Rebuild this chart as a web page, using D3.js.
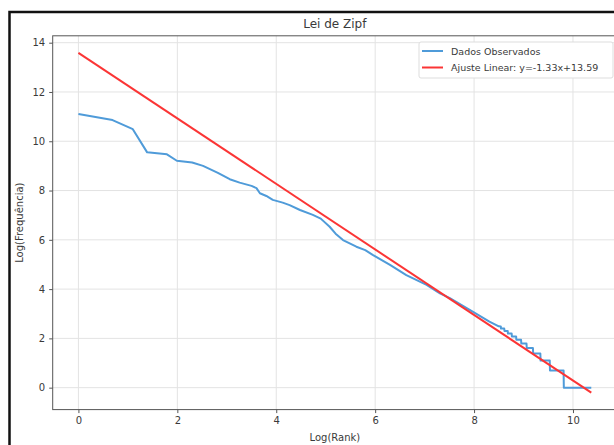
<!DOCTYPE html>
<meta charset="utf-8">
<head>
  <title>Lei de Zipf</title>
</head>

<style>
body { margin: 0; background: #fff; }
text { font-family: "DejaVu Sans", sans-serif; fill: #3a3a3a; }
.grid line { stroke: #e3e3e3; stroke-width: 1; }
.axis path { display: none; }
.axis line { stroke: #555; }
.axis text { font-size: 10px; }
</style>

<body>
  <svg width="614" height="445"></svg>

  <script src="https://cdnjs.cloudflare.com/ajax/libs/d3/7.8.5/d3.min.js"></script>
  <script>
var logRank = [0, 0.69, 1.10, 1.39, 1.79, 1.99, 2.30, 2.52, 2.82, 3.06, 3.26,
  3.50, 3.60, 3.67, 3.80, 3.93, 4.13, 4.27, 4.48, 4.74, 4.90, 5.08, 5.20, 5.35, 5.62,
  5.80, 5.95, 6.30, 6.63, 7.04, 7.31, 7.51, 7.98, 8.31, 8.50, 8.54,
  8.545, 8.61, 8.615, 8.68, 8.685, 8.76, 8.765, 8.85, 8.855, 8.95,
  8.955, 9.06, 9.065, 9.19, 9.195, 9.34, 9.345, 9.53, 9.535, 9.81,
  9.815, 10.37]
var logFreq = [11.11, 10.86, 10.49, 9.55, 9.47, 9.21, 9.14, 9.00, 8.72, 8.46, 8.32,
  8.19, 8.10, 7.89, 7.78, 7.62, 7.51, 7.41, 7.21, 7.01, 6.86, 6.53, 6.25, 5.99, 5.72,
  5.58, 5.39, 4.98, 4.57, 4.17, 3.83, 3.63, 3.08, 2.68, 2.49, 2.485,
  2.398, 2.398, 2.303, 2.303, 2.197, 2.197, 2.079, 2.079, 1.946, 1.946,
  1.792, 1.792, 1.609, 1.609, 1.386, 1.386, 1.099, 1.099, 0.693, 0.693,
  0, 0]

// linear fit
var fitSlope = -1.33, fitIntercept = 13.59
var fitRange = [0, 10.37]

var xTicks = [0, 2, 4, 6, 8, 10]
var yTicks = [0, 2, 4, 6, 8, 10, 12, 14]
var legendLabels = ['Dados Observados', 'Ajuste Linear: y=-1.33x+13.59']

var blue = '#4f9bd9', red = '#fb3535'

var svg = d3.select('svg')
// (window.top is read-only, so plot edges get their own names)
var pLeft = 52.7, pRight = 617, pTop = 35.8, pBottom = 409.6

var x = d3.scaleLinear().domain([-0.52, 10.89]).range([pLeft, pRight])
var y = d3.scaleLinear().domain([-0.89, 14.28]).range([pBottom, pTop])

// frame of the screenshot
svg.append('path')
  .attr('d', 'M9.5,445V12H614')
  .attr('fill', 'none')
  .attr('stroke', '#111')
  .attr('stroke-width', 2.5)

// grid
var grid = svg.append('g').attr('class', 'grid')
grid.selectAll('.gx').data(xTicks).enter().append('line')
  .attr('x1', d => x(d)).attr('x2', d => x(d))
  .attr('y1', pTop).attr('y2', pBottom)
grid.selectAll('.gy').data(yTicks).enter().append('line')
  .attr('x1', pLeft).attr('x2', pRight)
  .attr('y1', d => y(d)).attr('y2', d => y(d))

// data
var pts = logRank.map((r, i) => [r, logFreq[i]])
var line = d3.line().x(d => x(d[0])).y(d => y(d[1]))

svg.append('path')
  .datum(pts)
  .attr('d', line)
  .attr('fill', 'none')
  .attr('stroke', blue)
  .attr('stroke-width', 2)
  .attr('stroke-linejoin', 'round')

svg.append('path')
  .datum(fitRange.map(r => [r, fitSlope * r + fitIntercept]))
  .attr('d', line)
  .attr('fill', 'none')
  .attr('stroke', red)
  .attr('stroke-width', 2)

// spines
svg.append('rect')
  .attr('x', pLeft).attr('y', pTop)
  .attr('width', pRight - pLeft).attr('height', pBottom - pTop)
  .attr('fill', 'none')
  .attr('stroke', '#555')
  .attr('stroke-width', 1)

// axes
svg.append('g').attr('class', 'axis')
  .attr('transform', 'translate(0,' + pBottom + ')')
  .call(d3.axisBottom(x).tickValues(xTicks).tickSize(3.5).tickPadding(4))
svg.append('g').attr('class', 'axis')
  .attr('transform', 'translate(' + pLeft + ',0)')
  .call(d3.axisLeft(y).tickValues(yTicks).tickSize(3.5).tickPadding(4))

// title and labels
svg.append('text')
  .attr('x', (pLeft + pRight) / 2).attr('y', 27.5)
  .attr('text-anchor', 'middle')
  .style('font-size', '12px')
  .text('Lei de Zipf')
svg.append('text')
  .attr('x', (pLeft + pRight) / 2).attr('y', 441)
  .attr('text-anchor', 'middle')
  .style('font-size', '10px')
  .text('Log(Rank)')
svg.append('text')
  .attr('transform', 'translate(23,' + ((pTop + pBottom) / 2) + ') rotate(-90)')
  .attr('text-anchor', 'middle')
  .style('font-size', '10px')
  .text('Log(Frequência)')

// legend
var lg = svg.append('g').attr('transform', 'translate(419,42)')
lg.append('rect')
  .attr('width', 194).attr('height', 36)
  .attr('rx', 2)
  .attr('fill', '#fff')
  .attr('stroke', '#ddd')
lg.selectAll('line').data([blue, red]).enter().append('line')
  .attr('x1', 3).attr('x2', 24)
  .attr('y1', (d, i) => 9 + i * 16.5).attr('y2', (d, i) => 9 + i * 16.5)
  .attr('stroke', d => d)
  .attr('stroke-width', 2)
lg.selectAll('text').data(legendLabels).enter().append('text')
  .attr('x', 32)
  .attr('y', (d, i) => 12.5 + i * 16.5)
  .style('font-size', '9.5px')
  .text(d => d)
  </script>
</body>
</html>
